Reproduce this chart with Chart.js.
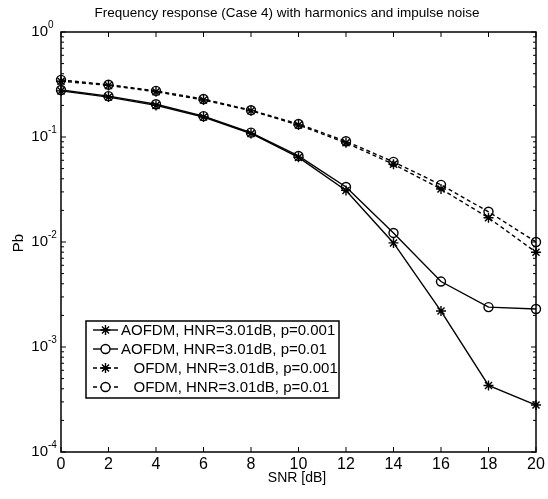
<!DOCTYPE html>
<html lang="en">
<head>
  <meta charset="UTF-8" />
  <title>Frequency response (Case 4)</title>
  <script src="https://cdn.jsdelivr.net/npm/chart.js"></script>
  <style>
    body {
      margin: 0;
      background: #fff;
    }
    canvas {
      display: block;
    }
  </style>
</head>
<body>
  <canvas id="berChart" width="548" height="499"></canvas>

  <script>
    // values
    const snrDb = [0, 2, 4, 6, 8, 10, 12, 14, 16, 18, 20];
    const aofdmP001 = [0.275, 0.24, 0.20, 0.155, 0.108, 0.064, 0.031, 0.0098, 0.0022, 0.00043, 0.00028];
    const aofdmP01 = [0.28, 0.245, 0.205, 0.158, 0.11, 0.066, 0.0334, 0.0122, 0.0042, 0.0024, 0.0023];
    const ofdmP001 = [0.34, 0.31, 0.27, 0.225, 0.178, 0.13, 0.088, 0.055, 0.032, 0.017, 0.008];
    const ofdmP01 = [0.35, 0.315, 0.275, 0.23, 0.18, 0.133, 0.091, 0.058, 0.035, 0.0194, 0.010];

    const seriesLabels = [
      'AOFDM, HNR=3.01dB, p=0.001',
      'AOFDM, HNR=3.01dB, p=0.01',
      '   OFDM, HNR=3.01dB, p=0.001',
      '   OFDM, HNR=3.01dB, p=0.01'
    ];
    const xTicks = [0, 2, 4, 6, 8, 10, 12, 14, 16, 18, 20];
    const yExponents = [0, -1, -2, -3, -4];

    const titleText = 'Frequency response (Case 4) with harmonics and impulse noise';
    const xTitle = 'SNR [dB]';
    const yTitle = 'Pb';

    const FONT = "'Liberation Sans', Arial, sans-serif";

    function toPoints(arr) {
      return snrDb.map((x, i) => ({ x: x, y: arr[i] }));
    }

    function makeSet(label, arr, style, dashed) {
      return {
        label: label,
        data: toPoints(arr),
        borderColor: '#000',
        borderWidth: 1.4,
        borderDash: dashed ? [4, 3] : [],
        pointStyle: style,
        pointRadius: style === 'star' ? 5 : 4.5,
        pointBorderColor: '#000',
        pointBackgroundColor: 'rgba(0,0,0,0)',
        pointBorderWidth: 1.4,
        tension: 0,
        clip: false
      };
    }

    // box, inward ticks, labels, legend - MATLAB look
    const matlabFrame = {
      id: 'matlabFrame',
      afterDraw(chart) {
        const ctx = chart.ctx;
        const a = chart.chartArea;
        const xs = chart.scales.x;
        const ys = chart.scales.y;
        ctx.save();
        ctx.strokeStyle = '#000';
        ctx.fillStyle = '#000';
        ctx.lineWidth = 1.5;
        ctx.setLineDash([]);
        ctx.strokeRect(a.left, a.top, a.right - a.left, a.bottom - a.top);

        ctx.lineWidth = 1;
        ctx.beginPath();
        xTicks.forEach(v => {
          const px = xs.getPixelForValue(v);
          ctx.moveTo(px, a.bottom); ctx.lineTo(px, a.bottom - 5);
          ctx.moveTo(px, a.top); ctx.lineTo(px, a.top + 5);
        });
        yExponents.forEach(e => {
          for (let m = 1; m < 10; m++) {
            const v = m * Math.pow(10, e);
            if (v > 1.0001) break;
            const py = ys.getPixelForValue(v);
            const len = m === 1 ? 5 : 3;
            ctx.moveTo(a.left, py); ctx.lineTo(a.left + len, py);
            ctx.moveTo(a.right, py); ctx.lineTo(a.right - len, py);
          }
        });
        ctx.stroke();

        // y tick labels 10^e
        ctx.textBaseline = 'middle';
        yExponents.forEach(e => {
          const py = ys.getPixelForValue(Math.pow(10, e));
          ctx.font = '15px ' + FONT;
          ctx.textAlign = 'right';
          ctx.fillText('10', 48, py);
          ctx.font = '10px ' + FONT;
          ctx.textAlign = 'left';
          ctx.fillText(String(e), 48, py - 7);
        });

        // title and axis titles
        ctx.textAlign = 'center';
        ctx.font = '13.5px ' + FONT;
        ctx.fillText(titleText, 287, 13);
        ctx.font = '14px ' + FONT;
        ctx.fillText(xTitle, 297, 478);
        ctx.save();
        ctx.translate(19, 243);
        ctx.rotate(-Math.PI / 2);
        ctx.font = '15px ' + FONT;
        ctx.fillText(yTitle, 0, 0);
        ctx.restore();

        // legend
        const lx = 86, ly = 321, lw = 253, lh = 77;
        ctx.fillStyle = '#fff';
        ctx.fillRect(lx, ly, lw, lh);
        ctx.strokeStyle = '#000';
        ctx.lineWidth = 1.5;
        ctx.strokeRect(lx, ly, lw, lh);
        chart.data.datasets.forEach((ds, i) => {
          const ry = ly + 9 + i * 19;
          ctx.lineWidth = 1.4;
          ctx.setLineDash(ds.borderDash);
          ctx.beginPath();
          ctx.moveTo(93, ry); ctx.lineTo(118, ry);
          ctx.stroke();
          ctx.setLineDash([]);
          ctx.beginPath();
          const cx = 105.5, r = ds.pointRadius;
          if (ds.pointStyle === 'circle') {
            ctx.fillStyle = '#fff';
            ctx.arc(cx, ry, r, 0, Math.PI * 2);
            ctx.fill();
          } else {
            const d = r * Math.SQRT1_2;
            ctx.moveTo(cx - r, ry); ctx.lineTo(cx + r, ry);
            ctx.moveTo(cx, ry - r); ctx.lineTo(cx, ry + r);
            ctx.moveTo(cx - d, ry - d); ctx.lineTo(cx + d, ry + d);
            ctx.moveTo(cx - d, ry + d); ctx.lineTo(cx + d, ry - d);
          }
          ctx.stroke();
          ctx.fillStyle = '#000';
          ctx.font = '15px ' + FONT;
          ctx.textAlign = 'left';
          ctx.textBaseline = 'middle';
          ctx.fillText(ds.label, 121, ry + 1);
        });
        ctx.restore();
      }
    };

    const ctx = document.getElementById('berChart').getContext('2d');
    const chart = new Chart(ctx, {
      type: 'line',
      data: {
        datasets: [
          makeSet(seriesLabels[0], aofdmP001, 'star', false),
          makeSet(seriesLabels[1], aofdmP01, 'circle', false),
          makeSet(seriesLabels[2], ofdmP001, 'star', true),
          makeSet(seriesLabels[3], ofdmP01, 'circle', true)
        ]
      },
      options: {
        responsive: false,
        animation: false,
        layout: { padding: { top: 32, right: 12, left: 0, bottom: 0 } },
        plugins: {
          legend: { display: false },
          title: { display: false },
          tooltip: { enabled: false }
        },
        scales: {
          x: {
            type: 'linear',
            min: 0,
            max: 20,
            grid: { display: false, drawTicks: false },
            border: { display: false },
            afterFit(scale) { scale.height = 47; },
            afterBuildTicks(scale) { scale.ticks = xTicks.map(v => ({ value: v })); },
            ticks: {
              color: '#000',
              padding: 3,
              maxRotation: 0,
              autoSkip: false,
              font: { family: FONT, size: 16 }
            }
          },
          y: {
            type: 'logarithmic',
            min: 1e-4,
            max: 1,
            grid: { display: false, drawTicks: false },
            border: { display: false },
            afterFit(scale) { scale.width = 61; },
            ticks: { display: false }
          }
        }
      },
      plugins: [matlabFrame]
    });
  </script>
</body>
</html>
